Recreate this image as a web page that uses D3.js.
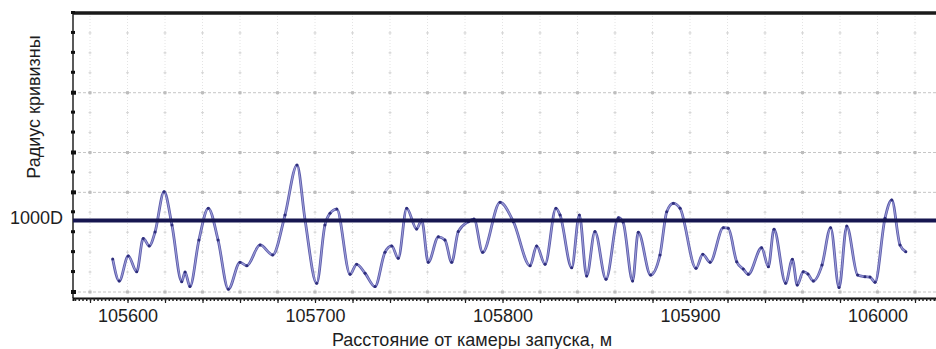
<!DOCTYPE html>
<html><head><meta charset="utf-8">
<script src="https://cdn.jsdelivr.net/npm/d3@7"></script>
<style>
body{margin:0;background:#fff}
svg{display:block}
text{font-family:"Liberation Sans",Arial,sans-serif;fill:#1e1e1e}
</style>
</head><body><svg id="c" width="936" height="349"></svg>
<script>
// ---- data ----
const distance = [105592.1,105595.6,105600.4,105604.9,105608.4,105611.6,105614.7,105619.5,105623.7,105628.9,
  105630.7,105633.3,105638.1,105643.1,105648.3,105653.8,105660.0,105663.6,105670.7,105677.4,
  105684.0,105690.4,105694.7,105700.9,105705.3,105708.0,105711.6,105718.7,105722.2,105726.7,
  105732.0,105737.3,105740.9,105744.4,105748.9,105754.2,105756.9,105760.4,105765.8,105769.3,
  105772.9,105776.4,105781.8,105784.8,105789.4,105798.7,105805.8,105814.7,105818.2,105822.7,
  105828.5,105830.7,105836.9,105841.0,105844.9,105849.3,105855.2,105861.8,105864.3,105869.4,
  105872.4,105879.0,105884.0,105887.6,105891.1,105894.7,105903.2,105906.8,105910.7,105917.8,
  105920.4,105924.9,105928.4,105931.1,105938.2,105941.8,105944.8,105951.0,105954.6,105957.2,
  105960.4,105962.9,105965.8,105970.4,105975.0,105979.5,105983.6,105989.4,105993.3,105996.0,
  105998.7,106004.0,106007.6,106012.0,106015.1];
const radius = [1.66,0.55,1.81,1.02,2.69,2.31,3.01,5.03,3.36,0.52,
  1.00,0.27,2.61,4.20,2.61,0.14,1.49,1.32,2.36,1.86,
  3.86,6.37,3.61,0.44,3.36,3.95,4.16,0.89,1.39,0.94,
  0.27,1.99,2.31,1.69,4.20,3.16,3.61,1.49,2.77,2.61,
  1.49,3.03,3.53,3.66,1.99,4.50,3.53,1.32,2.31,1.39,
  4.20,3.86,1.22,3.86,0.80,3.03,0.64,3.73,3.51,0.55,
  3.00,0.85,1.86,4.03,4.45,4.20,1.19,1.89,1.49,3.23,
  3.20,1.52,1.15,0.89,2.22,1.27,3.15,0.44,1.64,0.35,
  1.02,0.90,0.55,1.35,3.23,0.22,3.31,0.85,0.77,0.75,
  0.49,3.70,4.62,2.36,2.02];
const xTickLabels = [105600,105700,105800,105900,106000];
const xGrid = d3.range(105580, 106021, 20);
const xMinor = d3.range(105572, 106031, 2);
const yTicks = d3.range(0, 15, 1);
const yMajorGrid = [0,5,7,10];
const refLevel = 3.59;
const refLabel = "1000D";
const xTitle = "Расстояние от камеры запуска, м";
const yTitle = "Радиус кривизны";

(function () {
// ---- layout ----
const mL = 73, mR = 936, mT = 13, mB = 292, axisY = 298;
const x = d3.scaleLinear().domain([105570.93, 106031.2]).range([mL, mR]);
const y = d3.scaleLinear().domain([0, 14]).range([mB, mT]);
const svg = d3.select("#c");

// vertical dotted grid
svg.append("g").selectAll("line").data(xGrid).join("line")
  .attr("x1", d => x(d)).attr("x2", d => x(d)).attr("y1", mT).attr("y2", mB)
  .attr("stroke", "#e4e4e4").attr("stroke-width", 1).attr("stroke-dasharray", "1,2");

// small plus marks at grid intersections
const crosses = [];
xGrid.forEach(a => yTicks.forEach(b => crosses.push([a, b])));
svg.append("g").attr("stroke", "#d6d6d6").attr("stroke-width", 1)
  .selectAll("path").data(crosses).join("path")
  .attr("d", d => `M${x(d[0]) - 1.5},${y(d[1])}h3M${x(d[0])},${y(d[1]) - 1.5}v3`);

// horizontal dashed grid
svg.append("g").selectAll("line").data(yMajorGrid).join("line")
  .attr("x1", mL).attr("x2", mR).attr("y1", d => y(d)).attr("y2", d => y(d))
  .attr("stroke", "#c6c6c6").attr("stroke-width", 1).attr("stroke-dasharray", "3,2");
const majCross = [];
xGrid.forEach(a => yMajorGrid.forEach(b => majCross.push([a, b])));
svg.append("g").selectAll("rect").data(majCross).join("rect")
  .attr("x", d => x(d[0]) - 1.5).attr("y", d => y(d[1]) - 1.5)
  .attr("width", 3).attr("height", 3).attr("fill", "#bdbdbd");

// top border
svg.append("line").attr("x1", mL).attr("x2", mR).attr("y1", mT).attr("y2", mT)
  .attr("stroke", "#1a1a1a").attr("stroke-width", 3.5);

// left axis
svg.append("line").attr("x1", mL).attr("x2", mL).attr("y1", mT).attr("y2", axisY)
  .attr("stroke", "#222").attr("stroke-width", 1.5);
svg.append("g").selectAll("rect").data(yTicks).join("rect")
  .attr("x", mL - 2).attr("y", d => y(d) - 2)
  .attr("width", d => yMajorGrid.includes(d) ? 5 : 4).attr("height", d => yMajorGrid.includes(d) ? 4 : 3)
  .attr("fill", "#111");

// bottom axis
const axMinor = d3.axisBottom(x).tickValues(xMinor).tickSize(3).tickFormat("");
const gMinor = svg.append("g").attr("transform", `translate(0,${axisY})`).call(axMinor);
gMinor.select(".domain").attr("stroke", "#111").attr("stroke-width", 2);
gMinor.selectAll(".tick line").attr("stroke", "#222").attr("stroke-width", 1.5);
const axMajor = d3.axisBottom(x).tickValues(xGrid).tickSize(5).tickFormat("");
const gMajor = svg.append("g").attr("transform", `translate(0,${axisY})`).call(axMajor);
gMajor.select(".domain").remove();
gMajor.selectAll(".tick line").attr("stroke", "#222").attr("stroke-width", 1.2);
const axLab = d3.axisBottom(x).tickValues(xTickLabels).tickSize(0).tickPadding(11).tickFormat(d3.format("d"));
const gLab = svg.append("g").attr("transform", `translate(0,${axisY})`).call(axLab);
gLab.select(".domain").remove();
gLab.selectAll(".tick text").attr("font-size", 18).attr("fill", "#1e1e1e")
  .attr("font-family", "'Liberation Sans',Arial,sans-serif");

// data line
const line = d3.line().x((d, i) => x(distance[i])).y(d => y(d)).curve(d3.curveMonotoneX);
svg.append("path").datum(radius).attr("d", line)
  .attr("fill", "none").attr("stroke", "#5c5cab").attr("stroke-width", 2.8).attr("stroke-linejoin", "round");
svg.append("path").datum(radius).attr("d", line)
  .attr("fill", "none").attr("stroke", "#9c9cd6").attr("stroke-width", 1.1).attr("stroke-linejoin", "round");
svg.append("g").selectAll("circle").data(radius).join("circle")
  .attr("cx", (d, i) => x(distance[i])).attr("cy", d => y(d)).attr("r", 1.5).attr("fill", "#2e2e7c");

// reference line 1000D
svg.append("line").attr("x1", mL).attr("x2", mR).attr("y1", y(refLevel)).attr("y2", y(refLevel))
  .attr("stroke", "#161650").attr("stroke-width", 4);
svg.append("text").attr("x", 63).attr("y", y(refLevel) + 4).attr("text-anchor", "end")
  .attr("font-size", 18).text(refLabel);

// titles
svg.append("text").attr("x", 472).attr("y", 346).attr("text-anchor", "middle")
  .attr("font-size", 18).text(xTitle);
svg.append("text").attr("transform", "translate(40,107) rotate(-90)").attr("text-anchor", "middle")
  .attr("font-size", 18).text(yTitle);
})();
</script>
</body></html>
